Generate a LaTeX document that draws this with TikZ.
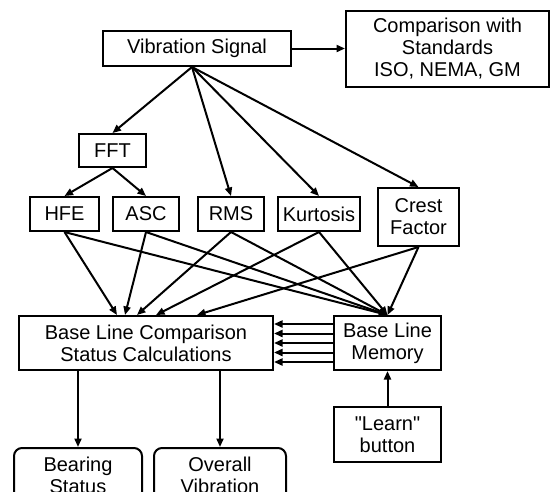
\documentclass[tikz,border=0pt]{standalone}
\usepackage{fontspec}
\setmainfont{Liberation Sans}[Ligatures=TeXOff]
\usetikzlibrary{positioning,arrows.meta}

\begin{document}
\begin{tikzpicture}
    [
      >/.tip={Triangle[length=8.5pt,width=7pt]},
      line width=2pt,
      font=\fontsize{20}{22}\selectfont,
      my box/.style={draw, rectangle, align=center, inner sep=0pt, minimum height=34pt},
      my round box/.style={my box, rounded corners=8pt}
    ]
    \useasboundingbox (0,0) rectangle (552pt,-491pt);
    \clip (0,0) rectangle (552pt,-491pt);
    \node (signal) [my box, minimum width=188pt, minimum height=35pt] at (197pt,-48.5pt) {Vibration Signal};
    \node (standards) [my box, minimum width=203pt, minimum height=76pt, right=53pt of signal] {Comparison with\\Standards\\ISO, NEMA, GM};
    \node (fft) [my box, minimum width=67pt, minimum height=33pt, below=66pt of signal, xshift=-84.5pt] {FFT};
    \node (hfe) [my box, minimum width=69pt, below=28pt of fft, xshift=-48pt] {HFE};
    \node (asc) [my box, minimum width=66pt, right=12pt of hfe] {ASC};
    \node (rms) [my box, minimum width=66pt, right=17pt of asc] {RMS};
    \node (kurt) [my box, minimum width=82pt, right=12pt of rms] {Kurtosis};
    \node (crest) [my box, minimum width=81pt, minimum height=58pt, right=16pt of kurt, yshift=-3pt] {Crest\\Factor};
    \node (calc) [my box, minimum width=254pt, minimum height=54pt, below=83pt of asc] {Base Line Comparison\\Status Calculations};
    \node (memory) [my box, minimum width=107pt, minimum height=54pt, right=59pt of calc] {Base Line\\Memory};
    \node (learn) [my box, minimum width=107pt, minimum height=55pt, below=35pt of memory] {"Learn"\\button};
    \node (bearing) [my round box, minimum width=128pt, minimum height=54pt, below=76pt of calc, xshift=-68pt] {Bearing\\Status};
    \node (overall) [my round box, minimum width=132pt, minimum height=54pt, right=10pt of bearing] {Overall\\Vibration};
    \coordinate (fork) at ([xshift=-5pt]signal.south);
    \path [->, draw] (signal) -- (standards);
    \foreach \n in {fft,rms,kurt,crest}
      \path [->, draw] (fork) -- (\n.north);
    \path [->, draw] (fft.south) -- (hfe.north);
    \path [->, draw] (fft.south) -- (asc.north);
    \foreach \n/\dx in {hfe/-29,asc/-21,rms/-9,kurt/10,crest/51} {
      \path [->, draw] (\n.south) -- ([xshift=\dx pt]calc.north);
      \path [->, draw] (\n.south) -- (memory.north);
    }
    \foreach \dy in {-19,-9.5,0,9.5,19}
      \path [->, draw] ([yshift=\dy pt]memory.west) -- ([yshift=\dy pt]calc.east);
    \path [->, draw] (calc.south -| bearing) -- (bearing);
    \path [->, draw] (calc.south -| overall) -- (overall);
    \path [->, draw] (learn) -- (memory);
  \end{tikzpicture}
\end{document}
